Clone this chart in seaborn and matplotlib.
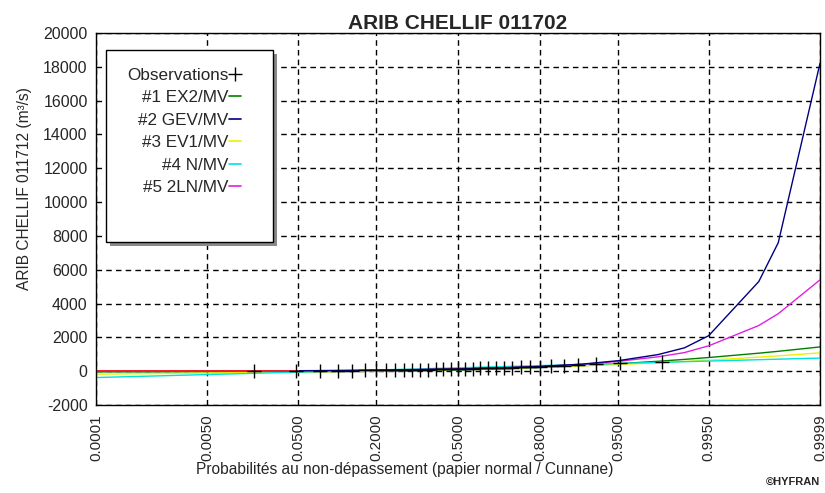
import math
from statistics import NormalDist

import numpy as np
import pandas as pd
import matplotlib
matplotlib.use("Agg")
import matplotlib.pyplot as plt
import matplotlib.transforms as mtransforms
from matplotlib.patches import Rectangle
from matplotlib.lines import Line2D
import seaborn as sns

# Probability ticks of the normal-probability paper
prob_ticks = [0.0001, 0.005, 0.05, 0.2, 0.5, 0.8, 0.95, 0.995, 0.9999]
prob_tick_labels = ["0.0001", "0.0050", "0.0500", "0.2000", "0.5000",
                    "0.8000", "0.9500", "0.9950", "0.9999"]

# Non-exceedance probabilities at which the fitted quantiles are given
probs = [0.0001, 0.0005, 0.001, 0.005, 0.01, 0.02, 0.05, 0.1, 0.2, 0.3, 0.5,
         0.7, 0.8, 0.9, 0.95, 0.98, 0.99, 0.995, 0.999, 0.9995, 0.9999]

# Fitted quantiles (m3/s)
q_ex2 = [-40, -40, -40, -39, -38, -37, -32, -23, -4, 17, 71,
         153, 218, 328, 439, 586, 697, 808, 1065, 1176, 1434]
q_gev = [0, 2, 3, 6, 9, 13, 22, 35, 58, 80, 130,
         210, 280, 420, 620, 980, 1380, 2100, 5300, 7600, 18200]
q_ev1 = [-174, -153, -143, -113, -98, -80, -51, -22, 18, 50, 110,
         183, 235, 318, 397, 499, 576, 653, 830, 906, 1083]
q_norm = [-376, -310, -279, -199, -161, -118, -55, 1, 69, 119, 200,
          281, 331, 399, 455, 518, 561, 599, 679, 710, 776]
q_2ln = [5, 7, 8, 12, 15, 20, 30, 45, 68, 90, 140,
         215, 280, 410, 580, 850, 1100, 1500, 2700, 3400, 5400]

# Lower-tail reference line
low_probs = [0.0001, 0.0005, 0.001, 0.005, 0.01, 0.02, 0.05]
q_low = [0, 0, 0, 0, 0, 0, 0]

# Observed annual maxima, sorted (m3/s)
obs_values = [5, 12, 20, 28, 35, 42, 50, 58, 65, 72, 80, 88, 95, 105, 112,
              120, 130, 140, 150, 160, 172, 185, 198, 212, 230, 250, 275,
              300, 330, 370, 420, 480, 560]
n_obs = len(obs_values)
# Cunnane plotting positions
obs_probs = [(i - 0.4) / (n_obs + 0.2) for i in range(1, n_obs + 1)]

series_names = ["#1 EX2/MV", "#2 GEV/MV", "#3 EV1/MV", "#4 N/MV", "#5 2LN/MV"]
series_colors = ["#008000", "#000080", "#f0f000", "#00e0e0", "#e020e0"]
series_values = [q_ex2, q_gev, q_ev1, q_norm, q_2ln]

sns.set_style("white")
plt.rcParams["font.family"] = ["Liberation Sans", "DejaVu Sans"]
plt.rcParams["axes.unicode_minus"] = False

_nd = NormalDist()
_ppf = np.vectorize(lambda p: _nd.inv_cdf(min(max(p, 1e-12), 1 - 1e-12)) if p == p else np.nan,
                    otypes=[float])
_cdf = np.vectorize(lambda z: 0.5 * (1.0 + math.erf(z / math.sqrt(2.0))), otypes=[float])

fig = plt.figure(figsize=(8.25, 4.93), dpi=100)
ax = fig.add_axes([0.1164, 0.1785, 0.8775, 0.7545])
ax.set_xscale("function", functions=(_ppf, _cdf))

draw_order = [0, 2, 3, 4, 1]
for k in draw_order:
    df = pd.DataFrame({"p": probs, "q": series_values[k]})
    sns.lineplot(data=df, x="p", y="q", color=series_colors[k], lw=1.0,
                 ax=ax, legend=False, sort=True)

df_low = pd.DataFrame({"p": low_probs, "q": q_low})
sns.lineplot(data=df_low, x="p", y="q", color="#ff2020", lw=1.3, ax=ax, legend=False)

df_obs = pd.DataFrame({"p": obs_probs, "q": obs_values})
sns.scatterplot(data=df_obs, x="p", y="q", marker="+", s=110, color="black",
                linewidth=1.0, ax=ax, legend=False, zorder=5)

ax.set_xlim(0.0001, 0.9999)
ax.set_ylim(-2000, 20000)
ax.set_xticks(prob_ticks)
ax.set_xticklabels(prob_tick_labels, rotation=90, fontsize=11)
ax.set_yticks(np.arange(-2000, 20001, 2000))
ax.set_yticks(np.arange(-1000, 20000, 2000), minor=True)
ax.tick_params(axis="y", labelsize=11.5, direction="inout", length=8, width=1, pad=2)
ax.tick_params(axis="y", which="minor", direction="in", length=3, width=1)
ax.tick_params(axis="x", direction="inout", length=8, width=1, pad=3)
ax.xaxis.set_minor_locator(matplotlib.ticker.NullLocator())

ax.grid(True, which="major", color="black", linestyle=(0, (4, 3)), linewidth=1.0)
ax.set_axisbelow(True)
for sp in ax.spines.values():
    sp.set_color("black")
    sp.set_linewidth(1.0)

ax.set_title("ARIB CHELLIF 011702", fontsize=15, fontweight="bold", pad=3)
ax.set_xlabel("Probabilités au non-dépassement (papier normal / Cunnane)", fontsize=11.2)
ax.xaxis.set_label_coords(0.427, -0.152)
ax.set_ylabel("ARIB CHELLIF 011712 (m³/s)", fontsize=11.2)
ax.yaxis.set_label_coords(-0.088, 0.581)

# Legend box with drop shadow
bx, by, bw, bh = 0.0138, 0.438, 0.2307, 0.516
shadow_tr = mtransforms.offset_copy(ax.transAxes, fig=fig, x=3.5, y=-3.5, units="dots")
ax.add_patch(Rectangle((bx, by), bw, bh, transform=shadow_tr, facecolor="#8a8a8a",
                       edgecolor="none", zorder=9, clip_on=False))
ax.add_patch(Rectangle((bx, by), bw, bh, transform=ax.transAxes, facecolor="white",
                       edgecolor="black", linewidth=1.0, zorder=10, clip_on=False))

handles = [Line2D([], [], color="black", marker="+", linestyle="none",
                  markersize=10, markeredgewidth=1.0)]
labels = ["Observations"]
for name, col in zip(series_names, series_colors):
    handles.append(Line2D([], [], color=col, lw=1.2))
    labels.append(name)
leg = ax.legend(handles, labels, loc="upper right", bbox_to_anchor=(0.212, 0.93),
                frameon=False, markerfirst=False, handlelength=0.7, handletextpad=0.05,
                labelspacing=0.44, borderpad=0, fontsize=12.3)
leg.set_zorder(11)

fig.text(0.994, 0.012, "©HYFRAN", ha="right", va="bottom", fontsize=8, fontweight="bold")

fig.savefig("out.png", dpi=100)
